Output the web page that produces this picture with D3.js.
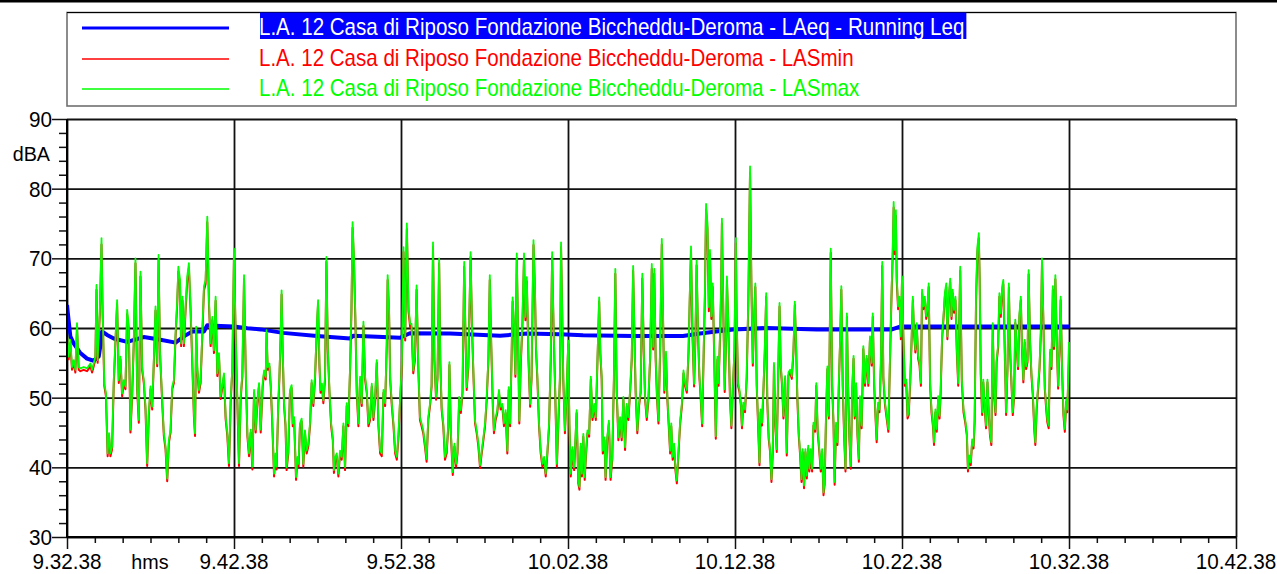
<!DOCTYPE html>
<html>
<head>
<meta charset="utf-8">
<script src="https://cdn.jsdelivr.net/npm/d3@7"></script>
<style>
  html, body { margin: 0; padding: 0; background: #fff; }
  svg { display: block; }
  text { font-family: "Liberation Sans", Arial, sans-serif; }
</style>
</head>
<body>
<svg id="chart" width="1277" height="574"></svg>
<script>
// Series names shown in the legend
const seriesNames = [
  "L.A. 12 Casa di Riposo Fondazione Biccheddu-Deroma - LAeq - Running Leq",
  "L.A. 12 Casa di Riposo Fondazione Biccheddu-Deroma - LASmin",
  "L.A. 12 Casa di Riposo Fondazione Biccheddu-Deroma - LASmax"
];
const seriesColors = ["#0000ff", "#ff0000", "#00ff00"];

// Axis ticks: level in dBA, time in seconds after 9.32.38
const levelTicks = [30, 40, 50, 60, 70, 80, 90];
const timeTicks = [0, 600, 1200, 1800, 2400, 3000, 3600, 4200];
const timeTickLabels = ["9.32.38", "9.42.38", "9.52.38", "10.02.38", "10.12.38", "10.22.38", "10.32.38", "10.42.38"];

// Running Leq [seconds, dBA]
const laeq = [[0,63.3],[6,61.0],[12,58.8],[24,57.8],[48,56.4],[72,55.6],[96,55.3],[114,55.9],[120,57.5],[126,59.5],[144,59.0],[168,58.5],[216,58.0],[276,58.7],[336,58.3],[390,57.9],[420,58.8],[450,59.5],[492,59.5],[504,60.4],[552,60.3],[600,60.2],[648,59.95],[696,59.8],[776,59.3],[898,58.85],[1017,58.5],[1028,58.9],[1135,58.7],[1196,58.6],[1232,59.25],[1376,59.2],[1556,58.9],[1653,59.2],[1771,59.1],[1854,58.95],[2034,58.85],[2213,58.85],[2274,59.2],[2310,59.4],[2393,59.8],[2515,60.0],[2695,59.8],[2874,59.8],[2964,59.8],[2993,60.2],[3112,60.2],[3600,60.2]];

// LASmax [seconds, dBA]
const lasMax = [
[0,59.7],[6,55.9],[12,58.3],[18,54.4],[24,55.4],[30,54.0],[36,60.7],[42,54.4],[48,54.2],[60,54.4],[72,54.2],[84,54.9],[90,54.0],[96,54.9],[102,55.9],[106,66.2],[110,55.4],[118,62.6],[124,72.9],[128,62.6],[134,52.1],[140,50.6],[146,42.0],[151,44.9],[156,42.0],[162,43.0],[168,52.5],[174,58.3],[180,64.0],[186,52.5],[192,55.9],[198,50.6],[204,52.5],[210,51.6],[216,62.6],[222,60.2],[228,45.4],[234,50.6],[240,58.3],[246,70.0],[252,51.6],[258,46.8],[264,68.1],[270,54.4],[276,52.5],[282,48.7],[288,40.6],[294,47.8],[300,51.6],[306,48.7],[312,55.4],[318,63.1],[324,54.9],[329,70.5],[334,56.8],[342,49.7],[348,44.9],[354,43.0],[360,38.4],[366,43.9],[372,45.4],[378,51.6],[384,52.5],[390,59.2],[396,64.0],[400,68.8],[406,66.9],[410,57.8],[415,64.5],[420,57.8],[426,63.1],[432,67.4],[438,69.3],[444,63.1],[450,55.4],[456,47.7],[460,44.9],[464,60.2],[468,54.4],[474,51.1],[480,52.5],[486,59.2],[492,66.0],[498,66.9],[504,76.0],[510,64.0],[516,57.8],[522,61.6],[528,56.8],[534,64.5],[540,53.5],[546,56.4],[552,50.2],[564,53.5],[570,47.3],[576,44.9],[582,40.6],[588,49.7],[594,54.4],[600,71.4],[606,59.2],[612,49.7],[618,40.6],[624,50.2],[630,53.5],[636,67.6],[642,54.4],[648,44.9],[654,42.0],[660,45.4],[666,40.1],[672,51.1],[678,45.4],[684,49.7],[690,52.1],[696,45.4],
[703,52.0],[708,53.9],[714,53.0],[717,59.7],[721,54.4],[727,54.9],[732,52.0],[737,47.2],[744,39.1],[749,42.0],[753,40.1],[759,49.2],[763,53.0],[768,59.7],[771,65.4],[775,56.8],[780,49.2],[785,46.3],[789,40.0],[795,42.4],[801,51.1],[807,51.8],[811,46.3],[816,47.2],[823,38.6],[828,41.5],[832,40.5],[837,46.3],[843,47.0],[849,40.5],[855,45.3],[861,42.4],[867,43.4],[873,46.3],[879,52.5],[885,49.2],[891,53.0],[897,59.7],[902,64.0],[907,54.9],[911,51.1],[916,52.0],[921,49.6],[927,53.0],[932,70.2],[937,57.3],[943,51.1],[949,46.3],[955,44.3],[959,39.6],[964,41.5],[969,42.0],[975,39.1],[981,42.4],[987,41.5],[993,46.3],[999,40.0],[1005,49.2],[1011,46.3],[1017,54.4],[1022,63.0],[1026,75.2],[1031,70.2],[1036,61.6],[1041,51.1],[1047,46.3],[1053,53.0],[1059,49.2],[1065,60.9],[1071,53.0],[1077,51.1],[1083,46.3],[1089,47.2],[1095,52.0],[1101,47.2],[1107,50.1],[1113,55.4],[1119,46.3],[1125,42.4],[1131,42.0],[1137,51.1],[1143,49.2],[1149,58.2],[1152,67.6],[1157,63.0],[1161,53.0],[1167,49.2],[1173,46.3],[1179,42.4],[1185,41.5],[1191,44.8],[1197,50.1],[1203,54.9],[1209,71.6],[1215,58.7],[1221,75.0],[1227,63.0],[1233,60.6],
[1238,60.6],[1244,53.9],[1250,55.8],[1256,66.1],[1262,54.9],[1268,47.2],[1274,46.3],[1280,45.3],[1286,43.4],[1292,41.2],[1298,47.2],[1304,49.1],[1310,52.0],[1315,72.3],[1320,55.8],[1326,50.1],[1331,53.0],[1337,70.0],[1341,55.8],[1346,48.7],[1352,46.3],[1358,41.5],[1364,42.4],[1370,46.3],[1374,55.1],[1379,45.3],[1386,39.3],[1392,43.4],[1398,40.5],[1403,42.4],[1409,50.1],[1415,48.2],[1421,51.1],[1427,69.5],[1431,60.6],[1436,51.5],[1442,54.9],[1450,70.9],[1455,60.6],[1460,53.9],[1466,46.7],[1472,45.3],[1478,43.4],[1484,40.3],[1490,42.4],[1496,44.3],[1502,46.3],[1508,50.1],[1514,55.8],[1519,67.6],[1524,58.2],[1530,49.1],[1534,45.3],[1540,47.2],[1546,48.2],[1552,51.1],[1558,48.7],[1564,49.1],[1570,46.3],[1576,48.2],[1582,42.4],[1587,51.5],[1592,46.3],[1597,55.4],[1601,64.4],[1606,60.6],[1611,53.4],[1616,70.7],[1621,58.2],[1625,46.7],[1630,54.9],[1636,60.6],[1642,70.7],[1647,61.6],[1652,67.3],[1658,55.8],[1664,49.1],[1669,53.0],[1672,61.6],[1676,72.6],[1681,66.4],[1685,57.3],[1690,53.0],[1696,46.3],[1702,42.4],[1708,40.5],[1714,41.5],[1720,39.1],[1726,42.4],[1732,46.3],[1738,55.8],[1743,70.9],[1748,60.6],[1754,51.1],[1760,40.5],[1765,46.3],[1771,53.0],
[1775,72.3],[1780,60.6],[1783,53.0],[1789,45.3],[1795,51.1],[1801,58.2],[1805,46.3],[1810,39.1],[1816,42.9],[1822,40.0],[1828,45.3],[1831,48.2],[1837,38.1],[1841,37.2],[1846,43.4],[1850,39.1],[1855,44.8],[1860,38.6],[1865,42.4],[1870,45.3],[1876,44.8],[1882,53.0],[1888,47.2],[1894,49.1],[1900,47.2],[1906,55.8],[1912,64.4],[1916,56.8],[1921,53.0],[1925,42.4],[1931,44.3],[1935,38.6],[1941,44.3],[1947,46.7],[1953,38.6],[1959,41.5],[1965,53.0],[1970,68.5],[1975,51.1],[1981,44.3],[1987,47.2],[1993,44.3],[1999,50.1],[2005,42.9],[2011,49.1],[2017,47.2],[2023,51.1],[2029,55.8],[2034,68.9],[2038,60.6],[2043,51.1],[2049,45.3],[2055,49.1],[2061,51.1],[2067,67.8],[2072,57.3],[2077,50.1],[2083,47.2],[2089,50.1],[2095,55.8],[2101,69.2],[2106,57.3],[2110,68.5],[2115,55.8],[2120,50.1],[2125,46.7],[2131,57.3],[2137,72.8],[2142,60.6],[2146,51.1],[2152,56.6],[2157,50.1],[2162,46.3],[2167,42.4],[2171,46.3],[2176,41.5],[2181,43.4],[2186,40.0],[2191,38.1],[2197,42.4],[2203,46.7],[2209,49.1],[2215,53.9],[2221,52.0],[2227,51.1],[2233,56.8],[2239,67.3],[2242,71.7],[2247,59.7],[2253,52.0],[2258,59.2],[2262,69.7],[2267,59.7],[2272,53.4],[2277,50.1],[2282,46.3],[2287,55.8],[2292,65.4],[2296,77.8],[2301,75.0],[2306,63.0],
[2310,71.2],[2315,61.7],[2320,66.4],[2325,56.9],[2331,44.5],[2337,55.9],[2341,52.1],[2346,58.8],[2350,65.5],[2353,75.7],[2358,62.6],[2363,51.2],[2368,58.8],[2371,67.4],[2376,60.7],[2382,50.2],[2387,46.0],[2392,51.2],[2398,56.9],[2403,72.9],[2406,61.7],[2411,52.1],[2416,51.2],[2421,49.3],[2425,46.0],[2430,49.3],[2436,48.3],[2442,53.1],[2448,64.5],[2454,83.2],[2459,66.4],[2464,55.0],[2468,60.7],[2473,66.4],[2478,52.1],[2483,46.4],[2488,40.7],[2492,48.3],[2497,46.4],[2502,51.2],[2507,56.9],[2512,65.0],[2516,49.8],[2521,44.5],[2526,42.6],[2531,38.3],[2536,42.6],[2540,55.0],[2545,46.4],[2550,42.6],[2555,53.1],[2560,63.6],[2564,55.0],[2569,52.1],[2574,47.4],[2580,53.1],[2586,42.1],[2592,53.6],[2598,54.0],[2604,53.1],[2610,56.9],[2615,63.8],[2620,56.9],[2624,50.2],[2629,45.0],[2634,42.1],[2639,38.3],[2643,42.6],[2648,37.4],[2653,42.6],[2658,38.8],[2663,43.1],[2667,39.8],[2672,42.6],[2677,39.8],[2682,46.4],[2688,45.5],[2692,52.1],[2697,45.5],[2703,42.6],[2708,39.8],[2713,42.6],[2718,36.4],[2722,37.9],[2727,47.4],[2732,54.5],[2737,47.4],[2744,71.4],[2749,52.1],[2754,46.4],[2758,37.9],[2763,46.4],[2768,43.6],[2773,52.1],[2778,58.8],[2782,66.0],[2787,52.1],[2792,45.0],[2797,39.8],[2802,62.1],[2806,52.1],[2811,44.5],[2816,40.2],[2821,51.2],[2826,56.0],[2830,47.4],[2835,52.1],[2840,45.0],[2845,41.2],[2849,50.2],[2855,46.0],[2861,57.4],[2867,52.1],[2873,56.0],[2879,52.1],[2885,58.8],[2891,55.0],[2895,62.1],[2900,52.1],[2905,47.4],[2909,44.0],[2914,49.3],[2919,48.3],[2924,55.0],[2929,69.5],[2933,53.1],[2939,49.3],[2945,47.4],[2951,45.5],[2957,56.0],[2962,64.5],[2967,71.7],[2970,78.1],[2974,71.2],[2978,76.9],[2981,67.4],[2986,63.1],[2991,64.5],[2996,58.8],[3000,67.4],[3005,58.8],[3010,52.1],[3015,52.6],[3020,47.4],[3024,47.9],[3029,52.1],[3034,57.9],[3039,64.5],[3043,59.8],[3048,56.9],[3053,60.7],[3058,56.0],[3063,55.0],[3068,52.1],[3072,65.5],[3077,63.1],[3082,64.5],[3087,61.7],[3091,62.6],[3096,66.4],[3101,52.1],[3106,48.3],[3111,46.4],[3115,43.6],[3120,48.3],[3125,45.5],[3130,50.2],[3135,47.4],[3139,51.2],[3144,58.8],[3149,61.7],[3154,65.0],[3159,66.4],[3163,58.8],[3168,64.5],[3173,67.1],[3178,61.7],[3182,65.5],[3187,62.6],[3192,64.5],[3197,56.9],[3202,52.1],[3206,61.7],
[3209,68.8],[3215,52.6],[3221,48.3],[3227,46.9],[3233,45.0],[3237,39.8],[3242,41.7],[3247,40.7],[3252,44.0],[3257,43.1],[3261,46.9],[3266,64.5],[3271,71.7],[3276,73.6],[3279,67.4],[3283,53.6],[3288,47.9],[3292,52.6],[3297,48.8],[3302,46.0],[3307,52.6],[3312,47.9],[3316,45.0],[3321,43.6],[3326,60.7],[3331,50.7],[3336,47.9],[3340,55.5],[3345,57.4],[3350,65.0],[3355,62.1],[3360,66.0],[3364,66.9],[3369,57.4],[3374,47.9],[3379,54.5],[3384,66.4],[3388,57.4],[3393,52.6],[3398,47.9],[3403,50.7],[3407,61.2],[3412,57.4],[3417,54.5],[3422,62.1],[3427,64.5],[3431,57.4],[3436,52.6],[3441,58.3],[3446,54.5],[3451,55.5],[3455,68.3],[3460,58.3],[3465,53.6],[3470,50.7],[3475,46.0],[3479,43.6],[3484,48.8],[3489,51.7],[3494,54.5],[3499,59.8],[3503,70.0],[3508,61.2],[3513,51.7],[3518,48.8],[3522,46.9],[3527,46.0],[3532,56.9],[3537,54.5],[3542,66.0],[3546,57.4],[3551,67.6],[3556,58.3],[3561,51.7],[3566,57.4],[3570,64.5],[3575,54.5],[3580,47.9],[3585,45.5],[3590,49.8],[3594,48.3],[3599,55.5],[3600,58.0]
];

// LASmin [seconds, dBA]
const lasMin = [
[0,59.3],[6,55.5],[12,57.8],[18,54.0],[24,55.0],[30,53.6],[36,60.0],[42,54.0],[48,53.8],[60,54.0],[72,53.8],[84,54.5],[90,53.6],[96,54.5],[102,55.5],[106,65.5],[110,55.0],[118,62.0],[124,72.0],[128,62.0],[134,51.7],[140,50.2],[146,41.6],[151,44.5],[156,41.6],[162,42.6],[168,52.0],[174,57.8],[180,63.4],[186,52.1],[192,55.5],[198,50.2],[204,52.1],[210,51.2],[216,62.0],[222,59.7],[228,45.0],[234,50.2],[240,57.8],[246,69.3],[252,51.2],[258,46.4],[264,67.4],[270,54.0],[276,52.1],[282,48.3],[288,40.2],[294,47.4],[300,51.2],[306,48.3],[312,55.0],[318,62.5],[324,54.5],[329,69.8],[334,56.4],[342,49.3],[348,44.5],[354,42.6],[360,38.0],[366,43.5],[372,45.0],[378,51.2],[384,52.1],[390,58.7],[396,63.4],[400,68.1],[406,66.3],[410,57.4],[415,63.9],[420,57.4],[426,62.5],[432,66.8],[438,68.6],[444,62.5],[450,55.0],[456,47.3],[460,44.5],[464,59.7],[468,54.0],[474,50.7],[480,52.1],[486,58.7],[492,65.4],[498,66.3],[504,75.2],[510,63.4],[516,57.4],[522,61.1],[528,56.4],[534,63.9],[540,53.1],[546,56.0],[552,49.8],[564,53.1],[570,46.9],[576,44.5],[582,40.2],[588,49.3],[594,54.0],[600,70.6],[606,58.7],[612,49.3],[618,40.2],[624,49.8],[630,53.1],[636,67.0],[642,54.0],[648,44.5],[654,41.6],[660,45.0],[666,39.7],[672,50.7],[678,45.0],[684,49.3],[690,51.7],[696,45.0],
[703,51.6],[708,53.5],[714,52.6],[717,59.2],[721,54.0],[727,54.5],[732,51.6],[737,46.8],[744,38.7],[749,41.6],[753,39.7],[759,48.8],[763,52.6],[768,59.2],[771,64.8],[775,56.4],[780,48.8],[785,45.9],[789,39.6],[795,42.0],[801,50.7],[807,51.4],[811,45.9],[816,46.8],[823,38.2],[828,41.1],[832,40.1],[837,45.9],[843,46.6],[849,40.1],[855,44.9],[861,42.0],[867,43.0],[873,45.9],[879,52.1],[885,48.8],[891,52.6],[897,59.2],[902,63.4],[907,54.5],[911,50.7],[916,51.6],[921,49.2],[927,52.6],[932,69.5],[937,56.9],[943,50.7],[949,45.9],[955,43.9],[959,39.2],[964,41.1],[969,41.6],[975,38.7],[981,42.0],[987,41.1],[993,45.9],[999,39.6],[1005,48.8],[1011,45.9],[1017,54.0],[1022,62.4],[1026,74.4],[1031,69.5],[1036,61.1],[1041,50.7],[1047,45.9],[1053,52.6],[1059,48.8],[1065,60.3],[1071,52.6],[1077,50.7],[1083,45.9],[1089,46.8],[1095,51.6],[1101,46.8],[1107,49.7],[1113,55.0],[1119,45.9],[1125,42.0],[1131,41.6],[1137,50.7],[1143,48.8],[1149,57.7],[1152,66.9],[1157,62.4],[1161,52.6],[1167,48.8],[1173,45.9],[1179,42.0],[1185,41.1],[1191,44.4],[1197,49.7],[1203,54.5],[1209,70.9],[1215,58.2],[1221,74.2],[1227,62.4],[1233,60.1],
[1238,60.1],[1244,53.5],[1250,55.4],[1256,65.5],[1262,54.5],[1268,46.8],[1274,45.9],[1280,44.9],[1286,43.0],[1292,40.8],[1298,46.8],[1304,48.7],[1310,51.6],[1315,71.6],[1320,55.4],[1326,49.7],[1331,52.6],[1337,69.3],[1341,55.4],[1346,48.3],[1352,45.9],[1358,41.1],[1364,42.0],[1370,45.9],[1374,54.7],[1379,44.9],[1386,38.9],[1392,43.0],[1398,40.1],[1403,42.0],[1409,49.7],[1415,47.8],[1421,50.7],[1427,68.8],[1431,60.1],[1436,51.1],[1442,54.5],[1450,70.2],[1455,60.1],[1460,53.5],[1466,46.3],[1472,44.9],[1478,43.0],[1484,39.9],[1490,42.0],[1496,43.9],[1502,45.9],[1508,49.7],[1514,55.4],[1519,66.9],[1524,57.7],[1530,48.7],[1534,44.9],[1540,46.8],[1546,47.8],[1552,50.7],[1558,48.3],[1564,48.7],[1570,45.9],[1576,47.8],[1582,42.0],[1587,51.1],[1592,45.9],[1597,55.0],[1601,63.8],[1606,60.1],[1611,53.0],[1616,70.0],[1621,57.7],[1625,46.3],[1630,54.5],[1636,60.1],[1642,70.0],[1647,61.1],[1652,66.7],[1658,55.4],[1664,48.7],[1669,52.6],[1672,61.1],[1676,71.9],[1681,65.8],[1685,56.9],[1690,52.6],[1696,45.9],[1702,42.0],[1708,40.1],[1714,41.1],[1720,38.7],[1726,42.0],[1732,45.9],[1738,55.4],[1743,70.2],[1748,60.1],[1754,50.7],[1760,40.1],[1765,45.9],[1771,52.6],
[1775,71.6],[1780,60.1],[1783,52.6],[1789,44.9],[1795,50.7],[1801,57.7],[1805,45.9],[1810,38.7],[1816,42.5],[1822,39.6],[1828,44.9],[1831,47.8],[1837,37.7],[1841,36.8],[1846,43.0],[1850,38.7],[1855,44.4],[1860,38.2],[1865,42.0],[1870,44.9],[1876,44.4],[1882,52.6],[1888,46.8],[1894,48.7],[1900,46.8],[1906,55.4],[1912,63.8],[1916,56.4],[1921,52.6],[1925,42.0],[1931,43.9],[1935,38.2],[1941,43.9],[1947,46.3],[1953,38.2],[1959,41.1],[1965,52.6],[1970,67.8],[1975,50.7],[1981,43.9],[1987,46.8],[1993,43.9],[1999,49.7],[2005,42.5],[2011,48.7],[2017,46.8],[2023,50.7],[2029,55.4],[2034,68.2],[2038,60.1],[2043,50.7],[2049,44.9],[2055,48.7],[2061,50.7],[2067,67.1],[2072,56.9],[2077,49.7],[2083,46.8],[2089,49.7],[2095,55.4],[2101,68.5],[2106,56.9],[2110,67.8],[2115,55.4],[2120,49.7],[2125,46.3],[2131,56.9],[2137,72.0],[2142,60.1],[2146,50.7],[2152,56.2],[2157,49.7],[2162,45.9],[2167,42.0],[2171,45.9],[2176,41.1],[2181,43.0],[2186,39.6],[2191,37.7],[2197,42.0],[2203,46.3],[2209,48.7],[2215,53.5],[2221,51.6],[2227,50.7],[2233,56.4],[2239,66.6],[2242,70.9],[2247,59.2],[2253,51.6],[2258,58.7],[2262,69.0],[2267,59.2],[2272,53.0],[2277,49.7],[2282,45.9],[2287,55.4],[2292,64.8],[2296,77.0],[2301,74.2],[2306,62.4],
[2310,70.6],[2315,61.3],[2320,65.9],[2325,56.5],[2331,44.1],[2337,55.5],[2341,51.7],[2346,58.4],[2350,65.0],[2353,75.0],[2358,62.2],[2363,50.8],[2368,58.4],[2371,66.8],[2376,60.3],[2382,49.8],[2387,45.6],[2392,50.8],[2398,56.5],[2403,72.2],[2406,61.3],[2411,51.7],[2416,50.8],[2421,48.9],[2425,45.6],[2430,48.9],[2436,47.9],[2442,52.7],[2448,64.0],[2454,82.3],[2459,65.9],[2464,54.6],[2468,60.3],[2473,65.9],[2478,51.7],[2483,46.0],[2488,40.3],[2492,47.9],[2497,46.0],[2502,50.8],[2507,56.5],[2512,64.5],[2516,49.4],[2521,44.1],[2526,42.2],[2531,37.9],[2536,42.2],[2540,54.6],[2545,46.0],[2550,42.2],[2555,52.7],[2560,63.1],[2564,54.6],[2569,51.7],[2574,47.0],[2580,52.7],[2586,41.7],[2592,53.2],[2598,53.6],[2604,52.7],[2610,56.5],[2615,63.3],[2620,56.5],[2624,49.8],[2629,44.6],[2634,41.7],[2639,37.9],[2643,42.2],[2648,37.0],[2653,42.2],[2658,38.4],[2663,42.7],[2667,39.4],[2672,42.2],[2677,39.4],[2682,46.0],[2688,45.1],[2692,51.7],[2697,45.1],[2703,42.2],[2708,39.4],[2713,42.2],[2718,36.0],[2722,37.5],[2727,47.0],[2732,54.1],[2737,47.0],[2744,70.8],[2749,51.7],[2754,46.0],[2758,37.5],[2763,46.0],[2768,43.2],[2773,51.7],[2778,58.4],[2782,65.5],[2787,51.7],[2792,44.6],[2797,39.4],[2802,61.6],[2806,51.7],[2811,44.1],[2816,39.8],[2821,50.8],[2826,55.6],[2830,47.0],[2835,51.7],[2840,44.6],[2845,40.8],[2849,49.8],[2855,45.6],[2861,57.0],[2867,51.7],[2873,55.6],[2879,51.7],[2885,58.4],[2891,54.6],[2895,61.6],[2900,51.7],[2905,47.0],[2909,43.6],[2914,48.9],[2919,47.9],[2924,54.6],[2929,68.9],[2933,52.7],[2939,48.9],[2945,47.0],[2951,45.1],[2957,55.6],[2962,64.0],[2967,71.0],[2970,77.3],[2974,70.6],[2978,76.1],[2981,66.8],[2986,62.7],[2991,64.0],[2996,58.4],[3000,66.8],[3005,58.4],[3010,51.7],[3015,52.2],[3020,47.0],[3024,47.5],[3029,51.7],[3034,57.5],[3039,64.0],[3043,59.4],[3048,56.5],[3053,60.3],[3058,55.6],[3063,54.6],[3068,51.7],[3072,65.0],[3077,62.7],[3082,64.0],[3087,61.3],[3091,62.2],[3096,65.9],[3101,51.7],[3106,47.9],[3111,46.0],[3115,43.2],[3120,47.9],[3125,45.1],[3130,49.8],[3135,47.0],[3139,50.8],[3144,58.4],[3149,61.3],[3154,64.5],[3159,65.9],[3163,58.4],[3168,64.0],[3173,66.6],[3178,61.3],[3182,65.0],[3187,62.2],[3192,64.0],[3197,56.5],[3202,51.7],[3206,61.3],
[3209,68.2],[3215,52.2],[3221,47.9],[3227,46.5],[3233,44.6],[3237,39.4],[3242,41.3],[3247,40.3],[3252,43.6],[3257,42.7],[3261,46.5],[3266,64.0],[3271,71.0],[3276,72.9],[3279,66.9],[3283,53.2],[3288,47.5],[3292,52.2],[3297,48.4],[3302,45.6],[3307,52.2],[3312,47.5],[3316,44.6],[3321,43.2],[3326,60.2],[3331,50.3],[3336,47.5],[3340,55.1],[3345,57.0],[3350,64.5],[3355,61.6],[3360,65.5],[3364,66.3],[3369,57.0],[3374,47.5],[3379,54.1],[3384,65.8],[3388,57.0],[3393,52.2],[3398,47.5],[3403,50.3],[3407,60.7],[3412,57.0],[3417,54.1],[3422,61.6],[3427,64.0],[3431,57.0],[3436,52.2],[3441,57.9],[3446,54.1],[3451,55.1],[3455,67.7],[3460,57.9],[3465,53.2],[3470,50.3],[3475,45.6],[3479,43.2],[3484,48.4],[3489,51.3],[3494,54.1],[3499,59.3],[3503,69.3],[3508,60.7],[3513,51.3],[3518,48.4],[3522,46.5],[3527,45.6],[3532,56.5],[3537,54.1],[3542,65.5],[3546,57.0],[3551,67.0],[3556,57.9],[3561,51.3],[3566,57.0],[3570,64.0],[3575,54.1],[3580,47.5],[3585,45.1],[3590,49.4],[3594,47.9],[3599,55.1],[3600,57.6]
];

// ---------- layout ----------
const W = 1277, H = 574;
const plot = { left: 67, right: 1236, top: 119, bottom: 537 };
const svg = d3.select("#chart");

const x = d3.scaleLinear().domain([0, 4200]).range([plot.left, plot.right]);
const y = d3.scaleLinear().domain([30, 90]).range([plot.bottom, plot.top]);

const AXIS_FONT = 22, AXIS_SQUEEZE = 0.94;
const LEGEND_FONT = 23, LEGEND_SQUEEZE = 0.893;

// window frame strip at the very top
svg.append("rect").attr("x", 0).attr("y", 0).attr("width", W).attr("height", 2.5).attr("fill", "#000");

// ---------- legend ----------
const legend = svg.append("g");
legend.append("rect")
  .attr("x", 67).attr("y", 12.5).attr("width", 1169).attr("height", 93.5)
  .attr("fill", "#fff").attr("stroke", "#707070").attr("stroke-width", 1.6);
legend.append("line").attr("x1", 67).attr("x2", 1236).attr("y1", 12.5).attr("y2", 12.5)
  .attr("stroke", "#000").attr("stroke-width", 1);

const rowLineY = [28, 59, 89];
const rowTextY = [34.5, 65.5, 96];
const rowWidths = [3, 1.4, 1.4];
seriesNames.forEach((name, i) => {
  legend.append("line")
    .attr("x1", 82).attr("x2", 229).attr("y1", rowLineY[i]).attr("y2", rowLineY[i])
    .attr("stroke", seriesColors[i]).attr("stroke-width", rowWidths[i]);
  const t = legend.append("text")
    .attr("transform", `translate(259,${rowTextY[i]}) scale(${LEGEND_SQUEEZE},1)`)
    .attr("font-size", LEGEND_FONT)
    .attr("fill", i === 0 ? "#fff" : seriesColors[i])
    .text(name);
  if (i === 0) {
    const w = t.node().getComputedTextLength() * LEGEND_SQUEEZE;
    legend.insert("rect", () => t.node())
      .attr("x", 260).attr("y", 12.5).attr("width", w + 1).attr("height", 26.5)
      .attr("fill", "#0000ff");
  }
});

// ---------- grid ----------
const grid = svg.append("g");
grid.append("g")
  .attr("transform", `translate(${plot.left},0)`)
  .call(d3.axisLeft(y).tickValues(levelTicks).tickSize(-(plot.right - plot.left)).tickFormat(""))
  .call(g => g.select(".domain").remove())
  .call(g => g.selectAll("line").attr("stroke", "#111").attr("stroke-width", 1.8));
grid.append("g")
  .attr("transform", `translate(0,${plot.bottom})`)
  .call(d3.axisBottom(x).tickValues(timeTicks).tickSize(-(plot.bottom - plot.top)).tickFormat(""))
  .call(g => g.select(".domain").remove())
  .call(g => g.selectAll("line").attr("stroke", "#111").attr("stroke-width", 1.8));

// ---------- data ----------
svg.append("clipPath").attr("id", "plot-clip")
  .append("rect").attr("x", plot.left).attr("y", plot.top - 2)
  .attr("width", plot.right - plot.left).attr("height", plot.bottom - plot.top + 2);

const line = d3.line().x(d => x(d[0])).y(d => y(d[1]));
const data = svg.append("g").attr("clip-path", "url(#plot-clip)");
data.append("path").datum(laeq).attr("d", line)
  .attr("fill", "none").attr("stroke", seriesColors[0]).attr("stroke-width", 4).attr("stroke-linejoin", "round");
data.append("path").datum(lasMin).attr("d", line)
  .attr("fill", "none").attr("stroke", seriesColors[1]).attr("stroke-width", 2).attr("stroke-linejoin", "round");
data.append("path").datum(lasMax).attr("d", line)
  .attr("fill", "none").attr("stroke", seriesColors[2]).attr("stroke-width", 1.8).attr("stroke-linejoin", "round");

// ---------- axes ----------
const axes = svg.append("g");
// minor ticks
const minorLevels = d3.range(32, 90, 2).filter(v => v % 10 !== 0);
axes.append("g").attr("transform", `translate(${plot.left},0)`)
  .call(d3.axisLeft(y).tickValues(minorLevels).tickSize(8).tickFormat(""))
  .call(g => g.select(".domain").remove());
axes.append("g").attr("transform", `translate(${plot.left},0)`)
  .call(d3.axisLeft(y).tickValues(levelTicks).tickSize(15).tickFormat(""))
  .call(g => g.select(".domain").remove());
const minorTimes = d3.range(0, 4201, 100).filter(t => t % 600 !== 0);
axes.append("g").attr("transform", `translate(0,${plot.bottom})`)
  .call(d3.axisBottom(x).tickValues(minorTimes).tickSize(6).tickFormat(""))
  .call(g => g.select(".domain").remove());
axes.append("g").attr("transform", `translate(0,${plot.bottom})`)
  .call(d3.axisBottom(x).tickValues(timeTicks).tickSize(12).tickFormat(""))
  .call(g => g.select(".domain").remove());
axes.selectAll("line").attr("stroke", "#111").attr("stroke-width", 1.5);

// axis lines
axes.append("line").attr("x1", plot.left).attr("x2", plot.left).attr("y1", plot.top).attr("y2", plot.bottom + 1)
  .attr("stroke", "#000").attr("stroke-width", 2);
axes.append("line").attr("x1", plot.left).attr("x2", plot.right).attr("y1", plot.bottom).attr("y2", plot.bottom)
  .attr("stroke", "#000").attr("stroke-width", 2);

// tick labels
levelTicks.forEach(v => {
  axes.append("text")
    .attr("transform", `translate(52,${y(v) + 8}) scale(${AXIS_SQUEEZE},1)`)
    .attr("text-anchor", "end").attr("font-size", AXIS_FONT).attr("fill", "#000")
    .text(v);
});
timeTicks.forEach((t, i) => {
  axes.append("text")
    .attr("transform", `translate(${x(t)},569) scale(${AXIS_SQUEEZE},1)`)
    .attr("text-anchor", "middle").attr("font-size", AXIS_FONT).attr("fill", "#000")
    .text(timeTickLabels[i]);
});

// unit labels
axes.append("text")
  .attr("transform", `translate(50,161) scale(${AXIS_SQUEEZE},1)`)
  .attr("text-anchor", "end").attr("font-size", 21).attr("fill", "#000").text("dBA");
axes.append("text")
  .attr("transform", `translate(150,569) scale(${AXIS_SQUEEZE},1)`)
  .attr("text-anchor", "middle").attr("font-size", 21).attr("fill", "#000").text("hms");
</script>
</body>
</html>
